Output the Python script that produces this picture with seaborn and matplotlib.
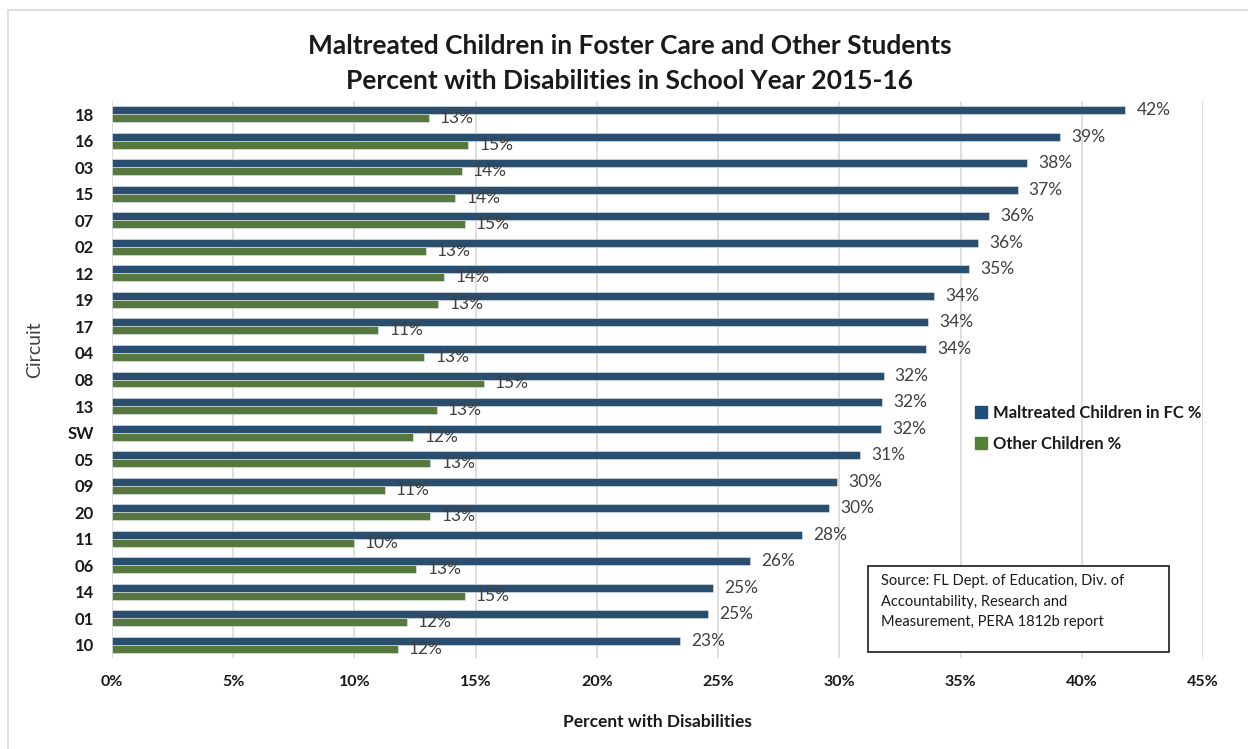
import matplotlib
matplotlib.use("Agg")
import matplotlib.pyplot as plt
import seaborn as sns
import pandas as pd
from matplotlib.patches import Rectangle
from matplotlib.lines import Line2D

circuits = ["18", "16", "03", "15", "07", "02", "12", "19", "17", "04", "08",
            "13", "SW", "05", "09", "20", "11", "06", "14", "01", "10"]
maltreated_fc = [41.8, 39.09, 37.74, 37.35, 36.18, 35.72, 35.34, 33.9, 33.65, 33.58, 31.83,
                 31.77, 31.71, 30.87, 29.9, 29.57, 28.47, 26.33, 24.79, 24.6, 23.43]
other_children = [13.07, 14.69, 14.43, 14.15, 14.56, 12.94, 13.71, 13.46, 10.99, 12.88, 15.34,
                  13.4, 12.42, 13.13, 11.25, 13.13, 9.98, 12.55, 14.56, 12.16, 11.78]
series_names = ["Maltreated Children in FC %", "Other Children %"]
x_ticks = [0, 5, 10, 15, 20, 25, 30, 35, 40, 45]

df = pd.DataFrame({
    "Circuit": circuits * 2,
    "Percent": maltreated_fc + other_children,
    "Series": [series_names[0]] * len(circuits) + [series_names[1]] * len(circuits),
})

sns.set_theme(style="white")
plt.rcParams["font.family"] = ["Lato", "DejaVu Sans"]

BLUE = "#1F4E79"
GREEN = "#548235"
TXT = "#404040"

fig = plt.figure(figsize=(12.48, 7.49), dpi=100)
ax = fig.add_axes([112 / 1248, 1 - 658 / 749, (1203 - 112) / 1248, (658 - 101) / 749])

sns.barplot(data=df, y="Circuit", x="Percent", hue="Series", order=circuits,
            hue_order=series_names, palette=[BLUE, GREEN], orient="h",
            width=0.6, edgecolor="#e4eaf0", linewidth=0.4, ax=ax, legend=False)

for cont, vals in zip(ax.containers, [maltreated_fc, other_children]):
    ax.bar_label(cont, labels=[f"{int(v + 0.5)}%" for v in vals], padding=8,
                 fontsize=12.5, color=TXT)

ax.set_xlim(0, 45)
ax.set_ylim(20.5, -0.5)
ax.set_xticks(x_ticks)
ax.set_xticklabels([f"{t}%" for t in x_ticks], fontsize=11.5, fontweight="bold", color="#1a1a1a")
ax.tick_params(axis="x", pad=12, length=0)
ax.tick_params(axis="y", pad=13, length=0)
for lbl in ax.get_yticklabels():
    lbl.set_fontsize(12)
    lbl.set_fontweight("bold")
    lbl.set_color("#1a1a1a")
ax.grid(axis="x", color="#d9d9d9", linewidth=1.2)
ax.set_axisbelow(True)
for s in ax.spines.values():
    s.set_visible(False)

ax.set_xlabel("Percent with Disabilities", fontsize=12.5, fontweight="bold", color="#1a1a1a", labelpad=18)
ax.set_ylabel("")
fig.text(35 / 1248, 1 - 350 / 749, "Circuit", rotation=90, fontsize=14, color=TXT,
         ha="center", va="center")

fig.text(630 / 1248, 1 - 46 / 749, "Maltreated Children in Foster Care and Other Students",
         fontsize=19, fontweight="bold", color="#1a1a1a", ha="center", va="center")
fig.text(630 / 1248, 1 - 81 / 749, "Percent with Disabilities in School Year 2015-16",
         fontsize=19, fontweight="bold", color="#1a1a1a", ha="center", va="center")

handles = [Line2D([], [], marker="s", linestyle="", markersize=8, color=BLUE),
           Line2D([], [], marker="s", linestyle="", markersize=8, color=GREEN)]
leg = ax.legend(handles, series_names, loc="upper left",
                bbox_to_anchor=((968 - 112) / (1203 - 112), (658 - 398) / (658 - 101)),
                frameon=False, fontsize=12, handlelength=0.8, handletextpad=0.3,
                labelspacing=0.9, borderaxespad=0)
for t in leg.get_texts():
    t.set_fontweight("bold")
    t.set_color("#1a1a1a")

# source box
box = Rectangle((868 / 1248, 1 - 652 / 749), (1169 - 868) / 1248, (652 - 566) / 749,
                transform=fig.transFigure, facecolor="white", edgecolor="#1a1a1a",
                linewidth=1.2, zorder=5)
fig.patches.append(box)
fig.text(881 / 1248, 1 - 574 / 749,
         "Source: FL Dept. of Education, Div. of\nAccountability, Research and\nMeasurement, PERA 1812b report",
         fontsize=10.5, color="#1a1a1a", ha="left", va="top", linespacing=1.6, zorder=6)

# outer chart border (top and left visible)
fig.add_artist(Line2D([8 / 1248, 8 / 1248], [0, 1 - 10 / 749], transform=fig.transFigure,
                      color="#d9d9d9", linewidth=1.2))
fig.add_artist(Line2D([8 / 1248, 1], [1 - 10 / 749, 1 - 10 / 749], transform=fig.transFigure,
                      color="#d9d9d9", linewidth=1.2))

fig.savefig("out.png", dpi=100)
